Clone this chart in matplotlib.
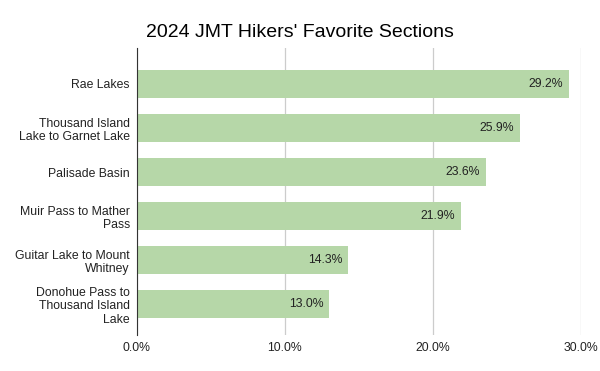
import matplotlib.pyplot as plt

plt.rcParams["font.family"] = ["Liberation Sans", "DejaVu Sans"]

sections = [
    "Rae Lakes",
    "Thousand Island\nLake to Garnet Lake",
    "Palisade Basin",
    "Muir Pass to Mather\nPass",
    "Guitar Lake to Mount\nWhitney",
    "Donohue Pass to\nThousand Island\nLake",
]
shares = [29.2, 25.9, 23.6, 21.9, 14.3, 13.0]
ticks = [0, 10, 20, 30]
tick_labels = ["0.0%", "10.0%", "20.0%", "30.0%"]

fig = plt.figure(figsize=(6, 3.71), dpi=100)
ax = fig.add_axes([0.228, 0.097, 0.74, 0.774])

ypos = list(range(len(sections)))
ax.barh(ypos, shares, height=0.63, color="#b6d7a8", zorder=2)
for y, v in zip(ypos, shares):
    ax.text(v - 0.4, y, f"{v:.1f}%", ha="right", va="center",
            fontsize=8.8, color="#222222", zorder=3)

ax.set_xlim(0, 30)
ax.set_ylim(len(sections) - 0.3, -0.82)
ax.set_yticks(ypos)
ax.set_yticklabels(sections, fontsize=8.8, color="#222222", linespacing=1.15)
ax.set_xticks(ticks)
ax.set_xticklabels(tick_labels, fontsize=8.8, color="#222222")
ax.tick_params(axis="y", length=0, pad=5)
ax.tick_params(axis="x", length=0, pad=5)
ax.grid(axis="x", color="#cccccc", linewidth=0.9, zorder=0)
for s in ["top", "right", "bottom"]:
    ax.spines[s].set_visible(False)
ax.spines["left"].set_color("#333333")
ax.spines["left"].set_zorder(4)

fig.text(0.5, 0.912, "2024 JMT Hikers' Favorite Sections", ha="center",
         va="center", fontsize=14, color="#000000")

fig.savefig("out.png", dpi=100)
